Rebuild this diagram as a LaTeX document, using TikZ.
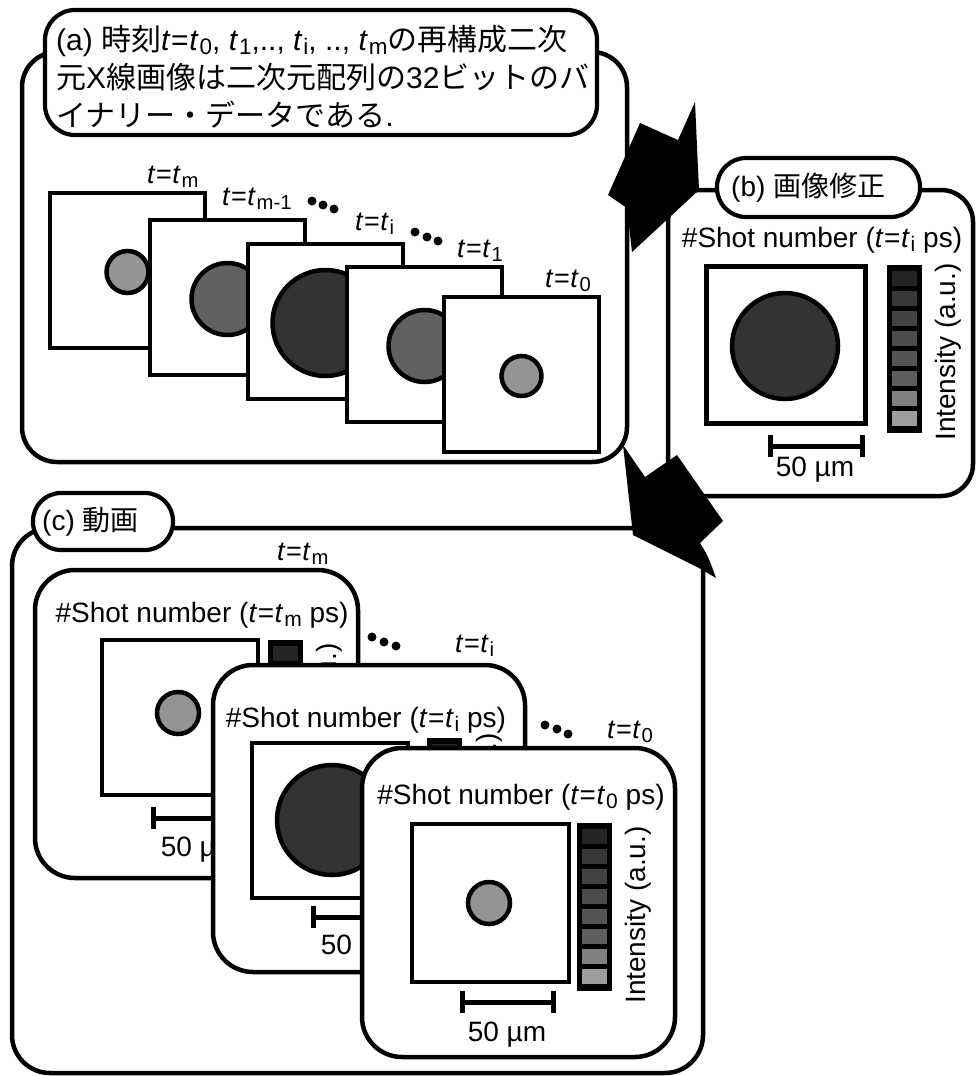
\documentclass[tikz,border=0pt]{standalone}
\usepackage{fontspec}
\setmainfont{Liberation Sans}
\newfontfamily\jp{Noto Sans CJK JP}
\newcommand\tv[1]{\textit{t}\kern0.03em\raisebox{-0.3ex}{\scalebox{0.75}{#1}}}
\newcommand\teq[1]{\textit{t}\kern0.02em=\kern0.02em\tv{#1}}
\newcommand\cbar[2]{%
  \fill[black] (#1,#2) rectangle ++(35,168);
  \foreach \kk/\vv in {0/86,1/78,2/74,3/70,4/67,5/63,6/50,7/38}
    {\fill[black!\vv] (#1+5,#2+6+\kk*20) rectangle ++(25,15);}
}
\newcommand\sbar[3]{%
  \draw[line width=5] (#1,#3) -- (#2,#3);
  \draw[line width=5] (#1,#3-11) -- (#1,#3+11);
  \draw[line width=5] (#2,#3-11) -- (#2,#3+11);
}
\begin{document}
\begin{tikzpicture}[x=1pt,y=-1pt,
  frame/.style={draw, line width=4.5, rounded corners=35},
  pill/.style={draw, line width=4.2, fill=white},
  img/.style={draw, line width=4.5, fill=white},
  spot/.style={draw, line width=4.5},
  card/.style={draw, line width=4.5, fill=white, rounded corners=40},
  txt/.style={font=\fontsize{28}{32}\selectfont, inner sep=0},
  tl/.style={font=\fontsize{27}{30}\selectfont, inner sep=0},
  jtxt/.style={font=\fontsize{30}{37}\selectfont, inner sep=0}]
\useasboundingbox (0,0) rectangle (975,1076);
\fill[white] (0,0) rectangle (975,1076);

% ---------- (a) ----------
\draw[frame] (22,52) rectangle (627,462);
\draw[pill, rounded corners=30] (45,10) rectangle (597,135);
\node[jtxt, anchor=base west] (al1) at (56,50) {(a) {\jp 時刻}\teq{0}, \tv{1},.., \tv{i}, .., \tv{m}{\jp の再構成二次}};
\node[jtxt, anchor=base west] (al2) at (56,88) {{\jp 元}X{\jp 線画像は二次元配列の}32{\jp ビットのバ}};
\node[jtxt, anchor=base west] (al3) at (56,126) {{\jp イナリー・データである}.};

\foreach \xx/\yy/\rr/\gv in {50/193/21/42, 150/220/36/62, 248/244/53/80, 347/267/36/62, 444/297/20/42} {
  \draw[img] (\xx,\yy) rectangle ++(155,155);
  \draw[spot, fill=black!\gv] (\xx+77.5,\yy+79) circle[radius=\rr];
}
\node[tl, anchor=base west] (atm) at (147,183) {\teq{m}};
\node[tl, anchor=base west] (atm1) at (222,205) {\teq{m-1}};
\node[tl, anchor=base west] (ati) at (355,230) {\teq{i}};
\node[tl, anchor=base west] (at1) at (457,257) {\teq{1}};
\node[tl, anchor=base west] (at0) at (545,287) {\teq{0}};
\foreach \px/\py in {312/201,323/205,334/209,415/232,427/237,438/241}
  \fill (\px,\py) circle[radius=4.5];

% ---------- (b) ----------
\draw[frame, rounded corners=32] (668,190) rectangle (973,496);
\draw[pill, rounded corners=29] (717,158) rectangle (920,217);
\node[txt, anchor=west] (btitle) at (731,188) {(b) {\jp 画像修正}};
\node[txt] (bshot) at (822,240) {\#Shot number (\teq{i} ps)};
\draw[img, line width=5] (706,266) rectangle (865,423);
\draw[spot, fill=black!80] (785,346) circle[radius=53];
\cbar{887}{265}
\node[txt, rotate=90] (bint) at (948,352) {Intensity (a.u.)};
\sbar{770}{862}{446}
\node[txt] (bum) at (815,470) {50 µm};

% ---------- (c) ----------
\draw[frame, rounded corners=38] (12,528) rectangle (703,1073);
\draw[pill, rounded corners=28] (33,493) rectangle (173,550);
\node[txt, anchor=west] (ctitle) at (42,522) {(c) {\jp 動画}};

% card t_m
\node[tl, anchor=base west] (c1t) at (277,560) {\teq{m}};
\draw[card] (35,570) rectangle (358,878);
\node[txt] (c1shot) at (202,615) {\#Shot number (\teq{m} ps)};
\draw[img] (102,640) rectangle (258,795);
\draw[spot, fill=black!42] (178,713) circle[radius=21];
\cbar{268}{640}
\node[txt, rotate=90] (c1int) at (329,732) {Intensity (a.u.)};
\sbar{153}{245}{818}
\node[txt] (c1um) at (200,850) {50 µm};
\foreach \px/\py in {372/637,384/642,396/646,545/725,557/729,568/734}
  \fill (\px,\py) circle[radius=4.5];

% card t_i
\node[tl, anchor=base west] (c2t) at (455,652) {\teq{i}};
\draw[card] (213,665) rectangle (525,972);
\node[txt] (c2shot) at (366,720) {\#Shot number (\teq{i} ps)};
\draw[img] (252,743) rectangle (408,898);
\draw[spot, fill=black!80] (332,820) circle[radius=55];
\cbar{427}{738}
\node[txt, rotate=90] (c2int) at (489,822) {Intensity (a.u.)};
\sbar{313}{405}{917}
\node[txt] (c2um) at (360,948) {50 µm};

% card t_0
\node[tl, anchor=base west] (c3t) at (607,738) {\teq{0}};
\draw[card] (362,748) rectangle (675,1057);
\node[txt] (c3shot) at (521,797) {\#Shot number (\teq{0} ps)};
\draw[img] (412,824) rectangle (569,982);
\draw[spot, fill=black!42] (489,903) circle[radius=21];
\cbar{577}{823}
\node[txt, rotate=90] (c3int) at (638,915) {Intensity (a.u.)};
\sbar{462}{553}{1002}
\node[txt] (c3um) at (507,1035) {50 µm};

% ---------- arrows ----------
\fill[black] (608,195) -- (640,123) -- (678,140) -- (695,102) -- (699,190) -- (632,252) -- (627,208) -- cycle;
\fill[black] (623,445) -- (645,477) -- (677,455) -- (723,521) -- (700,543) .. controls (708,556) .. (716,578) -- (699,568) -- (633,535) -- cycle;
\end{tikzpicture}
\end{document}
